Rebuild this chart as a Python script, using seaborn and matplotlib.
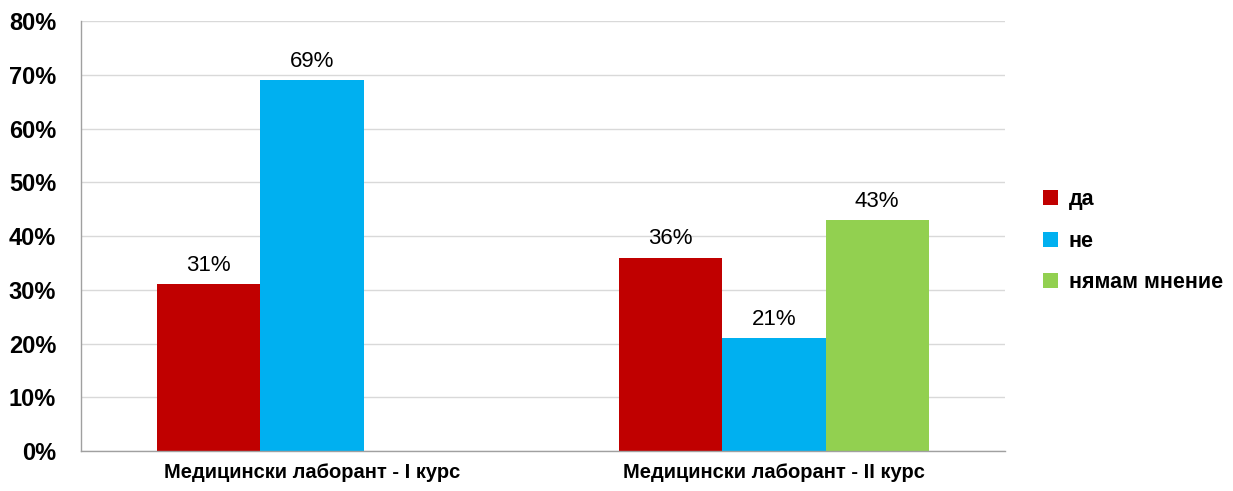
import seaborn as sns
import matplotlib.pyplot as plt
import numpy as np
import pandas as pd

categories = ["Медицински лаборант - I курс", "Медицински лаборант - II курс"]
answers = ["да", "не", "нямам мнение"]
da_vals = [31, 36]
ne_vals = [69, 21]
nyamam_vals = [np.nan, 43]
colors = ["#C00000", "#00B0F0", "#92D050"]

rows = []
for i, cat in enumerate(categories):
    for ans, vals in zip(answers, [da_vals, ne_vals, nyamam_vals]):
        rows.append({"group": cat, "answer": ans, "value": vals[i]})
df = pd.DataFrame(rows)

sns.set_style("white")
plt.rcParams["font.family"] = ["Liberation Sans", "DejaVu Sans"]
plt.rcParams["text.color"] = "black"
plt.rcParams["xtick.color"] = "black"
plt.rcParams["ytick.color"] = "black"

fig = plt.figure(figsize=(12.33, 4.91), dpi=100)
ax = fig.add_axes([0.0657, 0.0815, 0.7493, 0.8755])

sns.barplot(
    data=df, x="group", y="value", hue="answer",
    order=categories, hue_order=answers, palette=colors,
    width=0.67, saturation=1, errorbar=None, linewidth=0, ax=ax,
)

for container in ax.containers:
    labels = [f"{v:.0f}%" if not np.isnan(v) else "" for v in container.datavalues]
    ax.bar_label(container, labels=labels, padding=6, fontsize=16, color="black")

ax.set_ylim(0, 80)
ax.set_xlim(-0.5, 1.5)
ax.set_yticks(range(0, 81, 10))
ax.set_yticklabels([f"{t}%" for t in range(0, 81, 10)], fontsize=17, fontweight="bold")
ax.set_xticklabels(categories, fontsize=14.5, fontweight="bold")
ax.tick_params(axis="x", length=0, pad=9)
ax.tick_params(axis="y", length=0, pad=18)
ax.set_xlabel("")
ax.set_ylabel("")
ax.yaxis.grid(True, color="#D9D9D9", linewidth=1)
ax.set_axisbelow(True)
for side in ["top", "right"]:
    ax.spines[side].set_visible(False)
for side in ["left", "bottom"]:
    ax.spines[side].set_color("#A0A0A0")
    ax.spines[side].set_linewidth(1)

ax.legend(
    loc="center left", bbox_to_anchor=(1.02, 0.488), frameon=False,
    prop={"size": 15.5, "weight": "bold"}, handlelength=0.7, handleheight=0.7,
    handletextpad=0.5, labelspacing=0.95,
)

fig.savefig("out.png", dpi=100)
